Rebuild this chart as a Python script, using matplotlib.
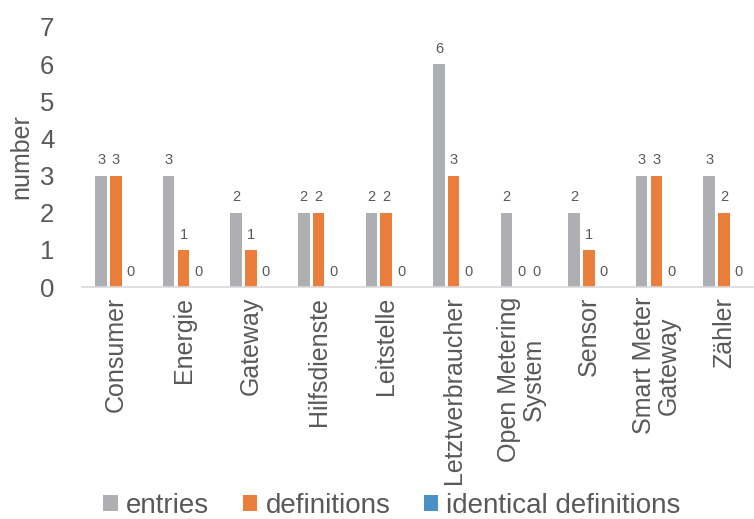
import matplotlib.pyplot as plt
import numpy as np

plt.rcParams['font.family'] = ['Liberation Sans', 'DejaVu Sans']

categories = ["Consumer", "Energie", "Gateway", "Hilfsdienste", "Leitstelle",
              "Letztverbraucher", "Open Metering\nSystem", "Sensor",
              "Smart Meter\nGateway", "Zähler"]
entries = [3, 3, 2, 2, 2, 6, 2, 2, 3, 3]
definitions = [3, 1, 1, 2, 2, 3, 0, 1, 3, 2]
identical = [0, 0, 0, 0, 0, 0, 0, 0, 0, 0]

series = [
    ("entries", entries, "#AEAFB2"),
    ("definitions", definitions, "#EB7E3A"),
    ("identical definitions", identical, "#4A90C8"),
]

text_col = "#595959"

fig = plt.figure(figsize=(7.54, 5.19), dpi=100, facecolor="white")
ax = fig.add_axes([0.109, 0.447, 0.896, 0.501])

x = np.arange(len(categories))
width = 0.17
offset = 0.22
for i, (name, vals, col) in enumerate(series):
    p = ax.bar(x + (i - 1) * offset, vals, width=width, color=col, label=name)
    ax.bar_label(p, padding=6, fontsize=10.5, color=text_col)

ax.set_xlim(-0.5, len(categories) - 0.5)
ax.set_ylim(0, 7)
ax.set_yticks(range(8))
ax.set_xticks(x)
ax.set_xticklabels(categories, rotation=90, ha="center", va="top",
                   multialignment="center", linespacing=1.0,
                   fontsize=18, color=text_col)
ax.tick_params(axis="y", labelsize=18.5, labelcolor=text_col, length=0, pad=20)
ax.tick_params(axis="x", length=0, pad=7)
ax.set_ylabel("number", fontsize=18, color=text_col, labelpad=5)

for s in ["top", "right", "left"]:
    ax.spines[s].set_visible(False)
ax.spines["bottom"].set_color("#D9D9D9")
ax.spines["bottom"].set_linewidth(1.2)

fig.legend(loc="center", bbox_to_anchor=(0.52, 0.026), ncol=3,
           frameon=False, fontsize=20, labelcolor=text_col,
           handlelength=0.52, handleheight=0.52, handletextpad=0.3,
           columnspacing=1.2, borderpad=0)

fig.savefig("out.png", dpi=100)
